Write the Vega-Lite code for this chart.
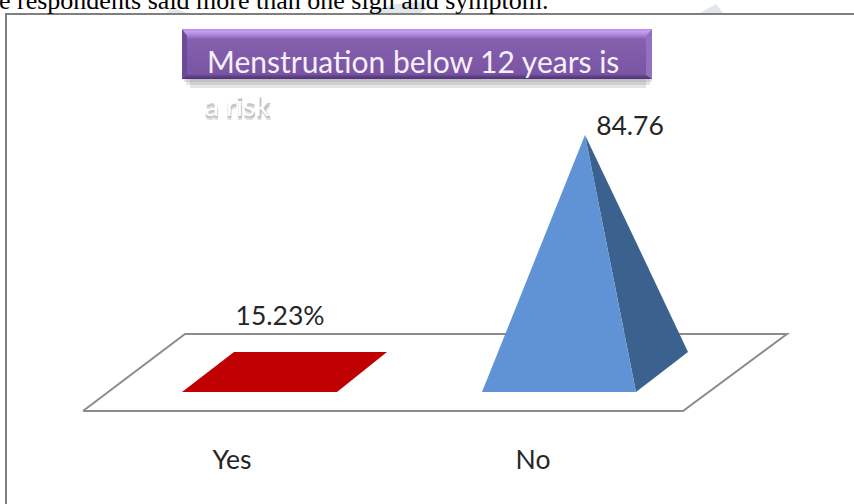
{"$schema":"https://vega.github.io/schema/vega-lite/v6.json","width":854,"height":504,"padding":0,"autosize":{"type":"none"},"background":"white","view":{"stroke":null},
"datasets":{
"watermark":[
{"patch":"a","x":166,"top":13,"bottom":13},{"patch":"a","x":172,"top":8,"bottom":13},{"patch":"a","x":188,"top":13,"bottom":13},
{"patch":"b","x":366,"top":13,"bottom":13},{"patch":"b","x":395,"top":4,"bottom":13},{"patch":"b","x":420,"top":2,"bottom":13},{"patch":"b","x":428,"top":8,"bottom":8},
{"patch":"c","x":700,"top":13,"bottom":13},{"patch":"c","x":716,"top":4,"bottom":13},{"patch":"c","x":723,"top":13,"bottom":13}],
"faces":[
{"part":"Yes","x":182,"top":392,"bottom":392},{"part":"Yes","x":234,"top":352,"bottom":392},{"part":"Yes","x":337,"top":352,"bottom":392},{"part":"Yes","x":387,"top":352,"bottom":352},
{"part":"No side","x":585,"top":135,"bottom":135},{"part":"No side","x":636,"top":242,"bottom":392},{"part":"No side","x":688,"top":352,"bottom":352},
{"part":"No front","x":482,"top":392,"bottom":392},{"part":"No front","x":585,"top":135,"bottom":392},{"part":"No front","x":636,"top":392,"bottom":392}],
"floor":[{"o":1,"x":83,"y":411},{"o":2,"x":683,"y":411},{"o":3,"x":787,"y":334},{"o":4,"x":185,"y":334},{"o":5,"x":83,"y":411}],
"frame":[{"o":1,"x":6,"y":504},{"o":2,"x":6,"y":14},{"o":3,"x":854,"y":14}],
"shadow":[{"x":184,"x2":652,"y":79,"y2":82},{"x":186,"x2":650,"y":79,"y2":85},{"x":190,"x2":646,"y":79,"y2":88}],
"box":[{"x":182,"x2":652,"y":29,"y2":79}],
"bevel":[
{"part":"left","x":182,"top":29,"bottom":79},{"part":"left","x":187,"top":36,"bottom":75},
{"part":"right","x":646,"top":36,"bottom":75},{"part":"right","x":652,"top":29,"bottom":79}],
"labels":[{"label":"15.23%","x":280,"y":317},{"label":"84.76","x":630,"y":127},{"label":"Yes","x":232,"y":461},{"label":"No","x":533,"y":461}]
},
"encoding":{},
"layer":[
{"data":{"name":"watermark"},"mark":{"type":"area","color":"#dfe7ea"},"encoding":{"x":{"field":"x","type":"quantitative","scale":{"domain":[0,854],"nice":false,"zero":false},"axis":null},"y":{"field":"top","type":"quantitative","scale":{"domain":[504,0],"nice":false,"zero":false},"axis":null},"y2":{"field":"bottom"},"detail":{"field":"patch"}}},
{"data":{"name":"frame"},"mark":{"type":"line","stroke":"#7f7f7f","strokeWidth":2},"encoding":{"x":{"field":"x","type":"quantitative"},"y":{"field":"y","type":"quantitative"},"order":{"field":"o"}}},
{"data":{"values":[{"label":"e respondents said more than one sign and symptom.","x":-1,"y":9}]},"mark":{"type":"text","font":"Liberation Serif","fontSize":26,"align":"left","baseline":"alphabetic","color":"#000000"},"encoding":{"x":{"field":"x","type":"quantitative"},"y":{"field":"y","type":"quantitative"},"text":{"field":"label"}}},
{"data":{"name":"floor"},"mark":{"type":"line","stroke":"#8c8c8c","strokeWidth":2},"encoding":{"x":{"field":"x","type":"quantitative"},"y":{"field":"y","type":"quantitative"},"order":{"field":"o"}}},
{"data":{"name":"faces"},"mark":{"type":"area","interpolate":"linear","opacity":1},"encoding":{"x":{"field":"x","type":"quantitative"},"y":{"field":"top","type":"quantitative"},"y2":{"field":"bottom"},"color":{"field":"part","type":"nominal","legend":null,"sort":["Yes","No side","No front"],"scale":{"domain":["Yes","No side","No front","left","right"],"range":["#c00000","#3b628f","#5f93d5","#6b4a97","#9470c0"]}}}},
{"data":{"name":"shadow"},"mark":{"type":"rect","color":"#8a8a8a","opacity":0.22},"encoding":{"x":{"field":"x","type":"quantitative"},"x2":{"field":"x2"},"y":{"field":"y","type":"quantitative"},"y2":{"field":"y2"}}},
{"data":{"name":"box"},"mark":{"type":"rect","color":{"x1":0,"y1":0,"x2":0,"y2":1,"gradient":"linear","stops":[{"offset":0,"color":"#b98ce8"},{"offset":0.05,"color":"#c79cf2"},{"offset":0.14,"color":"#a67fd2"},{"offset":0.2,"color":"#8460ae"},{"offset":0.9,"color":"#7a55a3"},{"offset":0.95,"color":"#5f3f88"},{"offset":1,"color":"#4f3376"}]}},"encoding":{"x":{"field":"x","type":"quantitative"},"x2":{"field":"x2"},"y":{"field":"y","type":"quantitative"},"y2":{"field":"y2"}}},
{"data":{"name":"bevel"},"mark":{"type":"area"},"encoding":{"x":{"field":"x","type":"quantitative"},"y":{"field":"top","type":"quantitative"},"y2":{"field":"bottom"},"color":{"field":"part","type":"nominal","legend":null}}},
{"data":{"values":[{"label":"Menstruation below 12 years is","x":207,"y":73}]},"mark":{"type":"text","font":"Lato","fontSize":30,"align":"left","baseline":"alphabetic","color":"#f6f0fb"},"encoding":{"x":{"field":"x","type":"quantitative"},"y":{"field":"y","type":"quantitative"},"text":{"field":"label"}}},
{"data":{"values":[{"label":"a risk","x":205,"y":116}]},"mark":{"type":"text","font":"Lato","fontSize":28,"fontWeight":"bold","align":"left","baseline":"alphabetic","color":"#a8a8a8","opacity":0.35,"dy":4},"encoding":{"x":{"field":"x","type":"quantitative"},"y":{"field":"y","type":"quantitative"},"text":{"field":"label"}}},
{"data":{"values":[{"label":"a risk","x":205,"y":116}]},"mark":{"type":"text","font":"Lato","fontSize":28,"fontWeight":"bold","align":"left","baseline":"alphabetic","color":"#b5b5b5","opacity":0.7,"dy":2},"encoding":{"x":{"field":"x","type":"quantitative"},"y":{"field":"y","type":"quantitative"},"text":{"field":"label"}}},
{"data":{"values":[{"label":"a risk","x":205,"y":116}]},"mark":{"type":"text","font":"Lato","fontSize":28,"align":"left","baseline":"alphabetic","color":"#ffffff"},"encoding":{"x":{"field":"x","type":"quantitative"},"y":{"field":"y","type":"quantitative"},"text":{"field":"label"}}},
{"data":{"name":"labels"},"mark":{"type":"text","font":"Lato","fontSize":26.5,"align":"center","baseline":"middle","color":"#262626"},"encoding":{"x":{"field":"x","type":"quantitative"},"y":{"field":"y","type":"quantitative"},"text":{"field":"label"}}}
]}
